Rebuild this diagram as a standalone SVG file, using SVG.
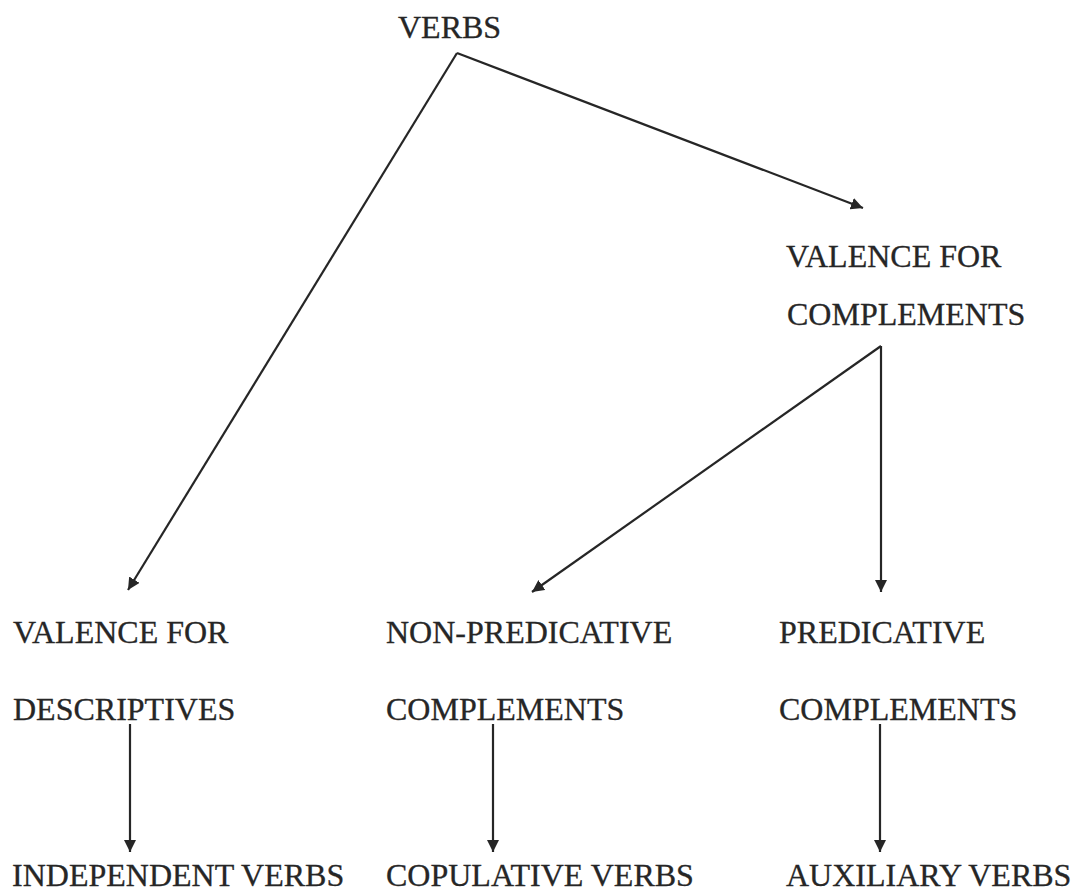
<svg xmlns="http://www.w3.org/2000/svg" width="1075" height="895" viewBox="0 0 1075 895">
  <style>
    .lbl { font-family: "Liberation Serif", "Times New Roman", serif; font-size: 32px; fill: #262626; stroke: #262626; stroke-width: 0.3; }
    .edge { stroke: #262626; stroke-width: 2.2; fill: none; marker-end: url(#arrow); }
  </style>
  <defs>
    <marker id="arrow" viewBox="0 0 10 10" refX="10" refY="5" markerWidth="5.5" markerHeight="5.5" orient="auto" markerUnits="strokeWidth">
      <path d="M0,0 L10,5 L0,10 Z" fill="#262626"/>
    </marker>
  </defs>
  <rect width="1075" height="895" fill="#ffffff"/>

  <g id="node-verbs"><text class="lbl" x="398" y="38">VERBS</text></g>
  <g id="node-valence-complements">
    <text class="lbl" x="786" y="267">VALENCE FOR</text>
    <text class="lbl" x="787" y="325">COMPLEMENTS</text>
  </g>
  <g id="node-valence-descriptives">
    <text class="lbl" x="13" y="643">VALENCE FOR</text>
    <text class="lbl" x="13" y="720">DESCRIPTIVES</text>
  </g>
  <g id="node-non-predicative">
    <text class="lbl" x="386" y="643">NON-PREDICATIVE</text>
    <text class="lbl" x="386" y="720">COMPLEMENTS</text>
  </g>
  <g id="node-predicative">
    <text class="lbl" x="779" y="643">PREDICATIVE</text>
    <text class="lbl" x="779" y="720">COMPLEMENTS</text>
  </g>
  <g id="node-independent"><text class="lbl" x="12" y="886">INDEPENDENT VERBS</text></g>
  <g id="node-copulative"><text class="lbl" x="386" y="886">COPULATIVE VERBS</text></g>
  <g id="node-auxiliary"><text class="lbl" x="786" y="886">AUXILIARY VERBS</text></g>

  <g id="connectors">
    <path class="edge" d="M457,53 L863,208"/>
    <path class="edge" d="M457,53 L128,590"/>
    <path class="edge" d="M881,346 L532,592"/>
    <path class="edge" d="M881,346 L881,592"/>
    <path class="edge" d="M130,724 L130,852"/>
    <path class="edge" d="M493,724 L493,852"/>
    <path class="edge" d="M880,724 L880,852"/>
  </g>
</svg>
